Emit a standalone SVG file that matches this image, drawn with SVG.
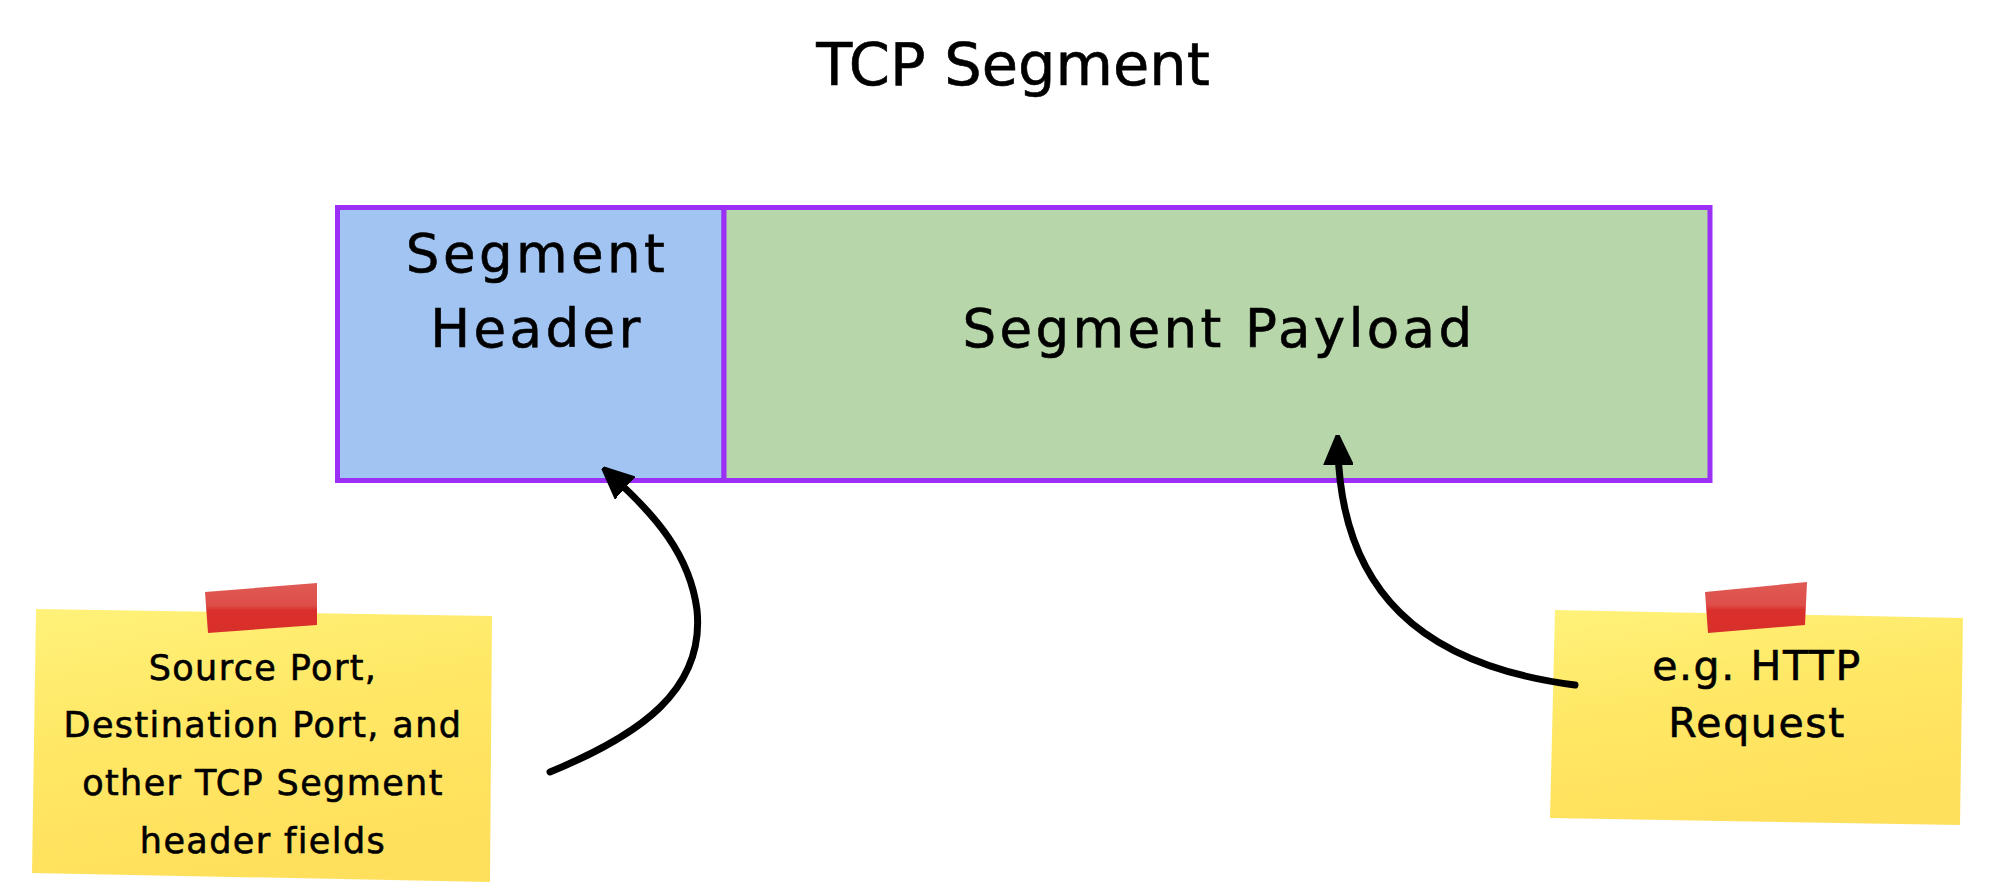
<svg xmlns="http://www.w3.org/2000/svg" width="1998" height="892" viewBox="0 0 1998 892">
<defs>
<style>
.t{font-family:"DejaVu Sans",sans-serif;fill:#000;text-anchor:middle;stroke:#000;stroke-width:0.6px}
.title{font-size:59px}
.box{font-size:53px;letter-spacing:3.4px}
.n1{font-size:35px;letter-spacing:1.4px}
.n2{font-size:41px;letter-spacing:1.6px}
.seg{stroke:#9b2ff5;stroke-width:5}
.conn{fill:none;stroke:#000;stroke-width:7;stroke-linecap:round}
</style>
<linearGradient id="note" x1="0" y1="0" x2="0.3" y2="1">
<stop offset="0" stop-color="#fff27a"/>
<stop offset="0.45" stop-color="#ffe866"/>
<stop offset="1" stop-color="#ffe05c"/>
</linearGradient>
<linearGradient id="tape" x1="0" y1="0" x2="0" y2="1">
<stop offset="0" stop-color="#e05a55"/>
<stop offset="0.45" stop-color="#de4e49"/>
<stop offset="0.55" stop-color="#d9302b"/>
<stop offset="1" stop-color="#d92f2a"/>
</linearGradient>
<marker id="arr" viewBox="0 0 10 10" refX="5" refY="5" markerWidth="30" markerHeight="30" markerUnits="userSpaceOnUse" orient="auto">
<path d="M0,0.5 L10,5 L0,9.5 Z" fill="#000" stroke="#000" stroke-width="1.2" stroke-linejoin="round"/>
</marker>
</defs>
<rect width="1998" height="892" fill="#fff"/>
<g id="title"><text class="t title" x="1013" y="85">TCP Segment</text></g>
<g id="segment-header">
<rect class="seg" x="337.5" y="207.5" width="386.5" height="273" fill="#a2c4f2"/>
<text class="t box" x="537" y="272">Segment</text>
<text class="t box" x="537" y="347">Header</text>
</g>
<g id="segment-payload">
<rect class="seg" x="724" y="207.5" width="986" height="273" fill="#b7d6a9"/>
<text class="t box" x="1219" y="347">Segment Payload</text>
</g>
<g id="note-header">
<polygon points="36,609 492,616 490,882 32,873" fill="url(#note)"/>
<polygon points="205,592 317,583 317,625 208,633" fill="url(#tape)"/>
<text class="t n1" x="263" y="680">Source Port,</text>
<text class="t n1" x="263" y="737">Destination Port, and</text>
<text class="t n1" x="263" y="795">other TCP Segment</text>
<text class="t n1" x="263" y="853">header fields</text>
</g>
<g id="note-payload">
<polygon points="1555,610 1963,618 1960,825 1550,818" fill="url(#note)"/>
<polygon points="1705,592 1807,582 1805,625 1708,633" fill="url(#tape)"/>
<text class="t n2" x="1757" y="680">e.g. HTTP</text>
<text class="t n2" x="1757" y="737">Request</text>
</g>
<g id="connectors">
<path class="conn" d="M550,772 C640,735 705,690 697,610 C690,555 655,515 614,478" marker-end="url(#arr)"/>
<path class="conn" d="M1575,685 C1420,665 1342,590 1338,450" marker-end="url(#arr)"/>
</g>
</svg>
